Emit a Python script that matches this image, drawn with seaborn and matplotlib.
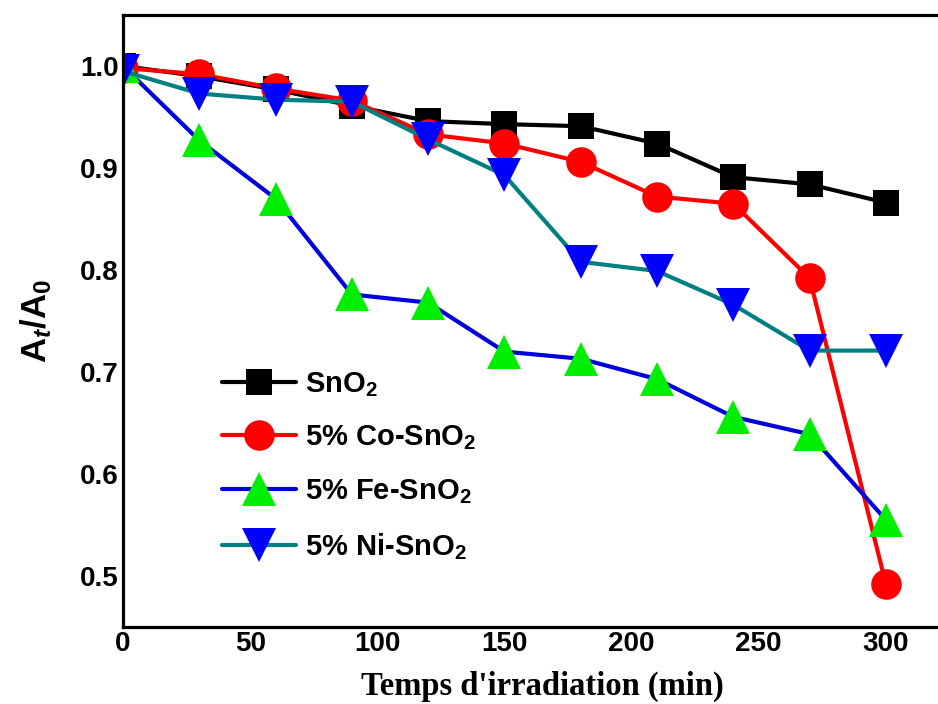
import matplotlib
matplotlib.use("Agg")
import matplotlib.pyplot as plt
import seaborn as sns
import pandas as pd

sns.set_style("white")
plt.rcParams['font.family'] = ['Liberation Sans', 'DejaVu Sans']
plt.rcParams['font.weight'] = 'bold'
plt.rcParams['text.color'] = 'black'
plt.rcParams['axes.labelcolor'] = 'black'
plt.rcParams['xtick.color'] = 'black'
plt.rcParams['ytick.color'] = 'black'
plt.rcParams['mathtext.fontset'] = 'custom'
plt.rcParams['mathtext.rm'] = 'Liberation Sans:bold'
plt.rcParams['mathtext.bf'] = 'Liberation Sans:bold'
plt.rcParams['mathtext.it'] = 'Liberation Sans:italic:bold'
plt.rcParams['mathtext.default'] = 'rm'

# irradiation time (min)
time = [0, 30, 60, 90, 120, 150, 180, 210, 240, 270, 300]

# A_t/A_0 for each sample
sno2 = [1.000, 0.990, 0.977, 0.961, 0.946, 0.943, 0.941, 0.924, 0.891, 0.884, 0.866]
co_sno2 = [0.998, 0.992, 0.978, 0.966, 0.933, 0.924, 0.906, 0.872, 0.865, 0.792, 0.492]
fe_sno2 = [1.000, 0.927, 0.870, 0.776, 0.768, 0.720, 0.713, 0.693, 0.656, 0.639, 0.555]
ni_sno2 = [0.995, 0.973, 0.967, 0.965, 0.928, 0.893, 0.808, 0.799, 0.766, 0.721, 0.721]

labels = ['SnO$_2$', '5% Co-SnO$_2$', '5% Fe-SnO$_2$', '5% Ni-SnO$_2$']

fig = plt.figure(figsize=(9.38, 7.04), dpi=100)
ax = fig.add_axes([123/938, 77/704, 330*2.543/938, 612/704])

sns.lineplot(x=time, y=sno2, ax=ax, color='black', lw=3, marker='s', ms=19,
             mfc='black', mec='black', mew=0, label=labels[0])
sns.lineplot(x=time, y=co_sno2, ax=ax, color='#ff0000', lw=3, marker='o', ms=22,
             mfc='#ff0000', mew=0, label=labels[1])
sns.lineplot(x=time, y=fe_sno2, ax=ax, color='#0000dd', lw=3, marker='^', ms=25,
             mfc='#00ee00', mew=0, label=labels[2])
sns.lineplot(x=time, y=ni_sno2, ax=ax, color='#008080', lw=3, marker='v', ms=25,
             mfc='#0000ff', mew=0, label=labels[3])

ax.set_xlim(0, 330)
ax.set_ylim(0.45, 1.05)
ax.set_xticks([0, 50, 100, 150, 200, 250, 300])
ax.set_yticks([0.5, 0.6, 0.7, 0.8, 0.9, 1.0])
ax.tick_params(length=0, labelsize=20, pad=3)
for lab in ax.get_xticklabels() + ax.get_yticklabels():
    lab.set_fontweight('bold')

for s in ax.spines.values():
    s.set_linewidth(2.3)
    s.set_color('black')

ax.set_xlabel("Temps d'irradiation (min)", family='Liberation Serif',
              fontweight='bold', fontsize=23.5, labelpad=10)
ax.set_ylabel('A$_{\\mathit{t}}$/A$_0$', fontsize=25, fontweight='bold', labelpad=19)

ax.legend(loc='upper left', bbox_to_anchor=(222/938, 1 - 370/704),
          bbox_transform=fig.transFigure, frameon=False, fontsize=21,
          handlelength=2.55, handletextpad=0.3, labelspacing=0.85,
          borderpad=0, borderaxespad=0)

fig.savefig('out.png', dpi=100)
